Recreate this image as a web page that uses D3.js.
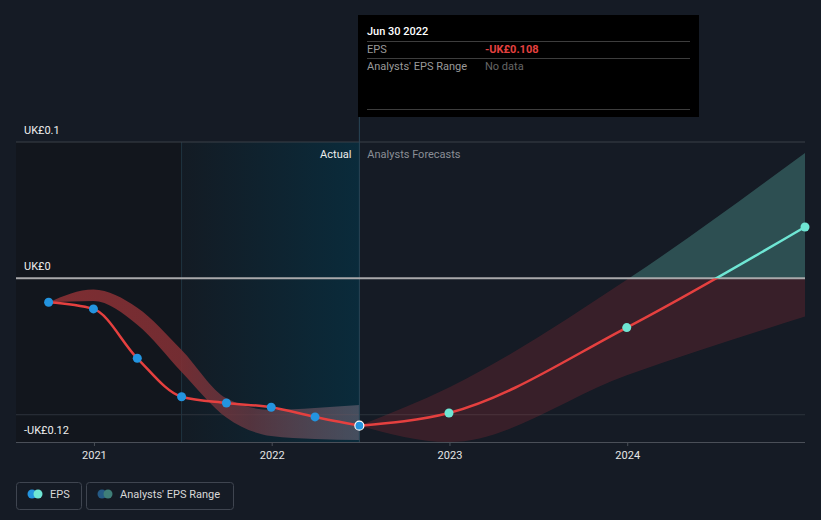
<!DOCTYPE html>
<html>
<head>
<meta charset="utf-8">
<script src="https://cdn.jsdelivr.net/npm/d3@7"></script>
<style>
  html, body { margin: 0; padding: 0; background: #151b25; }
  svg { display: block; font-family: Roboto, "Noto Sans", sans-serif; }
</style>
</head>
<body>
<svg id="chart" width="821" height="520"></svg>
<script>
// ---------------- data ----------------
const actualDates = ["2020-09-30","2020-12-31","2021-03-31","2021-06-30","2021-09-30","2021-12-31","2022-03-31","2022-06-30"];
const actualEPS   = [-0.0175, -0.0224, -0.0586, -0.0868, -0.0914, -0.0945, -0.1016, -0.108];
const pastRangeHigh = [-0.0175, -0.0081, -0.0215, -0.0525, -0.0880, -0.0965, -0.0950, -0.0928];
const pastRangeLow  = [-0.0175, -0.0166, -0.0340, -0.0686, -0.1020, -0.1156, -0.1178, -0.1185];

const forecastDates = ["2022-06-30","2022-12-31","2023-12-31","2024-12-31"];
const forecastEPS   = [-0.108, -0.0987, -0.0361, 0.0377];
const forecastHigh  = [-0.108, -0.0800, -0.0010, 0.0920];
const forecastLow   = [-0.108, -0.1200, -0.0710, -0.0280];

const yTickValues = [0.1, 0, -0.12];
const yTickLabels = ["UK£0.1", "UK£0", "-UK£0.12"];
const yGridExtra  = [-0.1];
const xTickYears  = ["2021","2022","2023","2024"];

const domainStart = "2020-07-25", domainEnd = "2024-12-31";
const pastRegionStart = "2021-06-30", todayDate = "2022-06-30";

// ---------------- setup ----------------
const parse = d3.utcParse("%Y-%m-%d");
const svg = d3.select("#chart");
const L = 16, R = 805, T = 142, B = 442;

const x = d3.scaleUtc().domain([parse(domainStart), parse(domainEnd)]).range([L, R]);
const y = d3.scaleLinear().domain([-0.12, 0.1]).range([B, T]);

const actual = actualDates.map((d, i) => ({ date: parse(d), v: actualEPS[i], hi: pastRangeHigh[i], lo: pastRangeLow[i] }));
const forecast = forecastDates.map((d, i) => ({ date: parse(d), v: forecastEPS[i], hi: forecastHigh[i], lo: forecastLow[i] }));

const defs = svg.append("defs");
const xPast = x(parse(pastRegionStart)), xToday = x(parse(todayDate));

const regGrad = defs.append("linearGradient").attr("id", "regGrad")
  .attr("gradientUnits", "userSpaceOnUse").attr("x1", xPast).attr("x2", xToday).attr("y1", 0).attr("y2", 0);
regGrad.append("stop").attr("offset", 0).attr("stop-color", "#131b24");
regGrad.append("stop").attr("offset", 1).attr("stop-color", "#0a2b3b");

const bandGrad = defs.append("linearGradient").attr("id", "bandGrad")
  .attr("gradientUnits", "userSpaceOnUse").attr("x1", x(parse(actualDates[0]))).attr("x2", xToday).attr("y1", 0).attr("y2", 0);
bandGrad.append("stop").attr("offset", 0).attr("stop-color", "#8a3034").attr("stop-opacity", 0.9);
bandGrad.append("stop").attr("offset", 0.42).attr("stop-color", "#7e2f34").attr("stop-opacity", 0.9);
bandGrad.append("stop").attr("offset", 0.65).attr("stop-color", "#6a3a44").attr("stop-opacity", 0.75);
bandGrad.append("stop").attr("offset", 1).attr("stop-color", "#6c6676").attr("stop-opacity", 0.6);

// clip paths above / below zero
defs.append("clipPath").attr("id", "above").append("rect")
  .attr("x", 0).attr("y", 0).attr("width", 821).attr("height", y(0));
defs.append("clipPath").attr("id", "below").append("rect")
  .attr("x", 0).attr("y", y(0)).attr("width", 821).attr("height", 520 - y(0));

// ---------------- regions ----------------
svg.append("rect").attr("x", L).attr("y", T).attr("width", xPast - L).attr("height", B - T).attr("fill", "#12161d");
svg.append("rect").attr("x", xPast).attr("y", T).attr("width", xToday - xPast).attr("height", B - T).attr("fill", "url(#regGrad)");
svg.append("line").attr("x1", xPast).attr("x2", xPast).attr("y1", T).attr("y2", B).attr("stroke", "#1f3440").attr("stroke-width", 1);

// ---------------- grid ----------------
svg.append("line").attr("x1", L).attr("x2", R).attr("y1", y(0.1)).attr("y2", y(0.1)).attr("stroke", "#3b4049").attr("stroke-width", 1);
yGridExtra.forEach(v => svg.append("line").attr("x1", L).attr("x2", R).attr("y1", y(v)).attr("y2", y(v)).attr("stroke", "#2c323b").attr("stroke-width", 1));

// ---------------- bands ----------------
const area = d3.area().x(d => x(d.date)).y0(d => y(d.lo)).y1(d => y(d.hi)).curve(d3.curveMonotoneX);
svg.append("path").datum(actual).attr("d", area).attr("fill", "url(#bandGrad)");

svg.append("path").datum(forecast).attr("d", area).attr("fill", "rgba(110,220,205,0.27)").attr("clip-path", "url(#above)");
svg.append("path").datum(forecast).attr("d", area).attr("fill", "rgba(200,50,60,0.2)").attr("clip-path", "url(#below)");

// today line
svg.append("line").attr("x1", xToday).attr("x2", xToday).attr("y1", 117).attr("y2", B).attr("stroke", "#2a4656").attr("stroke-width", 1);

// zero line
svg.append("line").attr("x1", L).attr("x2", R).attr("y1", y(0)).attr("y2", y(0)).attr("stroke", "#a9a9ab").attr("stroke-width", 2);

// x axis
const xAxis = d3.axisBottom(x)
  .tickValues(xTickYears.map(t => parse(t + "-01-01")))
  .tickFormat(d3.utcFormat("%Y")).tickSize(4).tickPadding(5);
const gx = svg.append("g").attr("transform", `translate(0,${B})`).call(xAxis);
gx.select(".domain").attr("stroke", "#4a4f58").attr("d", `M${L},0.5H${R}`);
gx.selectAll(".tick line").attr("stroke", "#4a4f58");
gx.selectAll("text").attr("fill", "#e6e6e6").attr("font-size", 11).attr("font-family", "Roboto, sans-serif");

// y labels
yTickValues.forEach((v, i) => {
  svg.append("text").attr("x", 24).attr("y", y(v) - 8).attr("fill", "#eeeeee")
    .attr("font-size", 11).text(yTickLabels[i]);
});

// section labels
svg.append("text").attr("x", xToday - 8).attr("y", 158).attr("text-anchor", "end").attr("fill", "#eeeeee").attr("font-size", 11).text("Actual");
svg.append("text").attr("x", xToday + 8).attr("y", 158).attr("fill", "#8a8e95").attr("font-size", 11).text("Analysts Forecasts");

// ---------------- lines ----------------
const line = d3.line().x(d => x(d.date)).y(d => y(d.v)).curve(d3.curveMonotoneX);
svg.append("path").datum(actual).attr("d", line).attr("fill", "none").attr("stroke", "#e5403f").attr("stroke-width", 2.5);
svg.append("path").datum(forecast).attr("d", line).attr("fill", "none").attr("stroke", "#e5403f").attr("stroke-width", 2.5).attr("clip-path", "url(#below)");
svg.append("path").datum(forecast).attr("d", line).attr("fill", "none").attr("stroke", "#6fe6d4").attr("stroke-width", 2.5).attr("clip-path", "url(#above)");

// points
svg.selectAll(".fpt").data(forecast.slice(1)).join("circle")
  .attr("cx", d => x(d.date)).attr("cy", d => y(d.v)).attr("r", 4.5).attr("fill", "#6fe6d4");
svg.selectAll(".apt").data(actual).join("circle")
  .attr("cx", d => x(d.date)).attr("cy", d => y(d.v)).attr("r", 4.5).attr("fill", "#2394df")
  .attr("stroke", (d, i) => i === actual.length - 1 ? "#ffffff" : "none").attr("stroke-width", 1.2);

// ---------------- tooltip ----------------
const tip = svg.append("g").attr("transform", "translate(358,15)");
tip.append("rect").attr("width", 341).attr("height", 102).attr("fill", "#000000");
tip.append("text").attr("x", 9).attr("y", 20).attr("fill", "#ffffff").attr("font-size", 11).attr("font-weight", 500).text("Jun 30 2022");
[26, 43, 94].forEach(yy => tip.append("line").attr("x1", 9).attr("x2", 332).attr("y1", yy + 0.5).attr("y2", yy + 0.5).attr("stroke", "#3d3d3d"));
tip.append("text").attr("x", 9).attr("y", 38).attr("fill", "#9a9a9a").attr("font-size", 11).text("EPS");
tip.append("text").attr("x", 127).attr("y", 38).attr("fill", "#e5403f").attr("font-size", 11).attr("font-weight", 700).text("-UK£" + Math.abs(actualEPS[actualEPS.length - 1]).toFixed(3));
tip.append("text").attr("x", 9).attr("y", 55).attr("fill", "#9a9a9a").attr("font-size", 11).text("Analysts' EPS Range");
tip.append("text").attr("x", 127).attr("y", 55).attr("fill", "#666666").attr("font-size", 11).text("No data");

// ---------------- legend ----------------
const lg = svg.append("g");
lg.append("rect").attr("x", 16.5).attr("y", 482.5).attr("width", 65).attr("height", 27).attr("rx", 3).attr("fill", "none").attr("stroke", "#3f4550");
lg.append("circle").attr("cx", 32).attr("cy", 494).attr("r", 4.5).attr("fill", "#2394df");
lg.append("circle").attr("cx", 38).attr("cy", 494).attr("r", 4.5).attr("fill", "#6fe6d4");
lg.append("text").attr("x", 50).attr("y", 498).attr("fill", "#d8d8d8").attr("font-size", 11).text("EPS");
lg.append("rect").attr("x", 86.5).attr("y", 482.5).attr("width", 147).attr("height", 27).attr("rx", 3).attr("fill", "none").attr("stroke", "#3f4550");
lg.append("circle").attr("cx", 102).attr("cy", 494).attr("r", 4.5).attr("fill", "#255a85");
lg.append("circle").attr("cx", 108).attr("cy", 494).attr("r", 4.5).attr("fill", "#3f7e78");
lg.append("text").attr("x", 120).attr("y", 498).attr("fill", "#d8d8d8").attr("font-size", 11).text("Analysts' EPS Range");
</script>
</body>
</html>
